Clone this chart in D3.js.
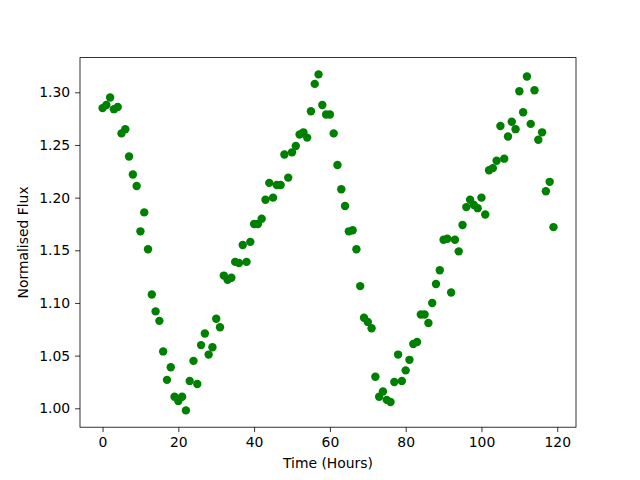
<!DOCTYPE html>
<html>
<head>
<meta charset="utf-8">
<script src="https://cdn.jsdelivr.net/npm/d3@7"></script>
<style>
  html, body { margin: 0; background: #fff; overflow: hidden; }
  svg { display: block; }
  svg text { font-family: "DejaVu Sans", sans-serif; }
</style>
</head>
<body>
<div id="chart"></div>
<script>
// time in hours, one reading per hour
const hours = d3.range(0, 120)

// normalised flux
const flux = [
  1.285, 1.288, 1.295, 1.284, 1.286, 1.261, 1.265, 1.239, 1.222, 1.211,
  1.168, 1.186, 1.151, 1.108, 1.092, 1.083, 1.054, 1.027, 1.039, 1.011,
  1.007, 1.011, 0.998, 1.026, 1.045, 1.023, 1.060, 1.071, 1.051, 1.058,
  1.085, 1.077, 1.126, 1.122, 1.124, 1.139, 1.138, 1.155, 1.139, 1.158,
  1.175, 1.175, 1.180, 1.198, 1.214, 1.200, 1.212, 1.212, 1.241, 1.219,
  1.243, 1.249, 1.260, 1.262, 1.257, 1.282, 1.308, 1.317, 1.288, 1.279,
  1.279, 1.261, 1.231, 1.208, 1.192, 1.168, 1.169, 1.151, 1.116, 1.086,
  1.082, 1.076, 1.030, 1.011, 1.016, 1.008, 1.006, 1.025, 1.051, 1.026,
  1.036, 1.046, 1.061, 1.063, 1.089, 1.089, 1.081, 1.100, 1.118, 1.131,
  1.160, 1.161, 1.110, 1.160, 1.149, 1.174, 1.191, 1.198, 1.193, 1.190,
  1.200, 1.184, 1.226, 1.228, 1.235, 1.268, 1.237, 1.258, 1.272, 1.265,
  1.301, 1.281, 1.315, 1.270, 1.302, 1.255, 1.262, 1.206, 1.215, 1.172
]

const xTicks = [0, 20, 40, 60, 80, 100, 120]
const yTicks = [1.00, 1.05, 1.10, 1.15, 1.20, 1.25, 1.30]

const width = 640
const height = 480
const margin = { top: 57.6, right: 64, bottom: 52.8, left: 80 }
const innerWidth = width - margin.left - margin.right
const innerHeight = height - margin.top - margin.bottom

const svg = d3.select('#chart')
  .append('svg')
  .attr('width', width)
  .attr('height', height)

const g = svg.append('g')
  .attr('transform', `translate(${margin.left},${margin.top})`)

// matplotlib style 5% padding on both axes
const xExt = d3.extent(hours)
const xPad = (xExt[1] - xExt[0]) * 0.05
const xScale = d3.scaleLinear()
  .domain([xExt[0] - xPad, xExt[1] + xPad])
  .range([0, innerWidth])

const yExt = d3.extent(flux)
const yPad = (yExt[1] - yExt[0]) * 0.05
const yScale = d3.scaleLinear()
  .domain([yExt[0] - yPad, yExt[1] + yPad])
  .range([innerHeight, 0])

// points
g.selectAll('.dot')
  .data(hours)
  .enter().append('circle')
  .attr('class', 'dot')
  .attr('cx', (d, i) => xScale(d))
  .attr('cy', (d, i) => yScale(flux[i]))
  .attr('r', 4.2)
  .style('fill', '#008000')

// axes
const xAxis = g.append('g')
  .attr('transform', `translate(0,${innerHeight})`)
  .call(d3.axisBottom(xScale).tickValues(xTicks).tickFormat(d3.format('d'))
    .tickSizeInner(4.9).tickSizeOuter(0).tickPadding(4.9))

const yAxis = g.append('g')
  .call(d3.axisLeft(yScale).tickValues(yTicks).tickFormat(d3.format('.2f'))
    .tickSizeInner(4.9).tickSizeOuter(0).tickPadding(4.9))

;[xAxis, yAxis].forEach(ax => {
  ax.select('.domain').remove()
  ax.selectAll('.tick line').attr('stroke', '#000').attr('stroke-width', 0.8)
  ax.selectAll('.tick text')
    .attr('fill', '#000')
    .style('font-size', '13.9px')
})

// frame
g.append('rect')
  .attr('width', innerWidth)
  .attr('height', innerHeight)
  .attr('fill', 'none')
  .attr('stroke', '#000')
  .attr('stroke-width', 0.8)

// labels
g.append('text')
  .attr('x', innerWidth / 2)
  .attr('y', innerHeight + 41)
  .attr('text-anchor', 'middle')
  .style('font-size', '13.9px')
  .text('Time (Hours)')

g.append('text')
  .attr('transform', `translate(${-52},${innerHeight / 2}) rotate(-90)`)
  .attr('text-anchor', 'middle')
  .style('font-size', '13.9px')
  .text('Normalised Flux')
</script>
</body>
</html>
